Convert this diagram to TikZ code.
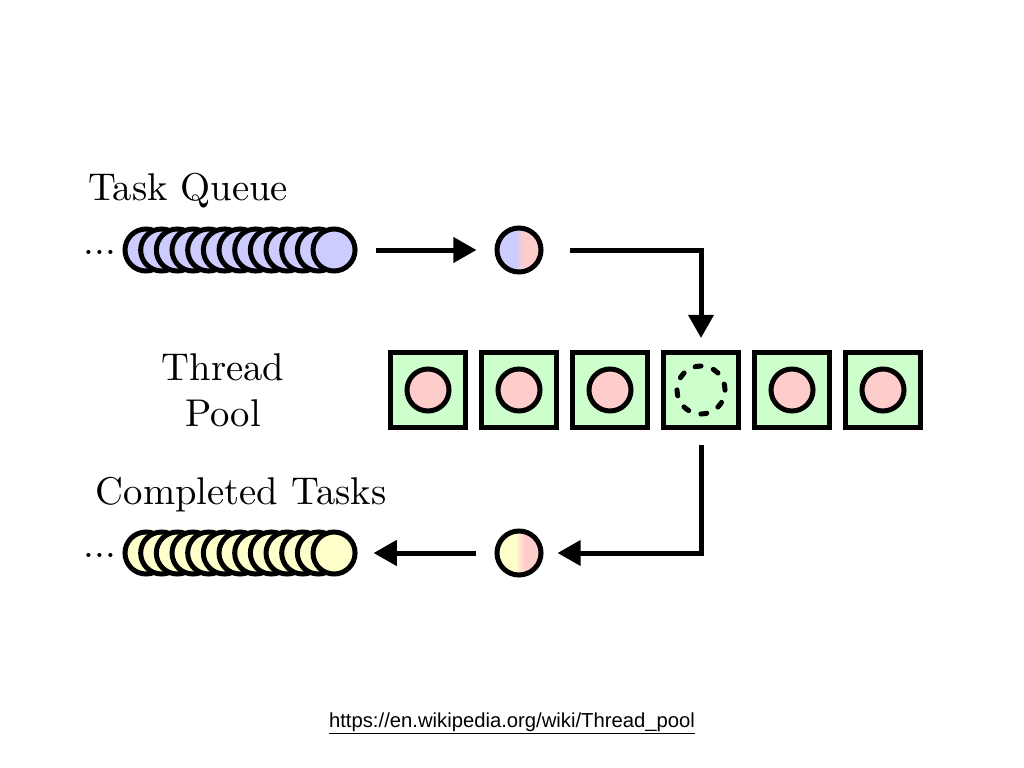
\documentclass[tikz,border=0pt]{standalone}
\usepackage{fontspec}
\newfontfamily\linkfont{Liberation Sans}
\usetikzlibrary{arrows.meta}
\definecolor{taskblue}{RGB}{204,204,255}
\definecolor{taskpink}{RGB}{255,204,204}
\definecolor{poolgreen}{RGB}{204,255,204}
\definecolor{doneyellow}{RGB}{255,255,204}
\pgfdeclarehorizontalshading{inblend}{100bp}{color(0bp)=(taskblue); color(46bp)=(taskblue); color(56bp)=(taskpink); color(100bp)=(taskpink)}
\pgfdeclarehorizontalshading{outblend}{100bp}{color(0bp)=(doneyellow); color(46bp)=(doneyellow); color(56bp)=(taskpink); color(100bp)=(taskpink)}
\tikzset{>={Triangle[length=0.58cm,width=0.62cm]}}

\begin{document}
\begin{tikzpicture}[x=0.025cm, y=-0.025cm,
        task/.style={circle, draw=black, line width=0.125cm, minimum size=1.05cm, inner sep=0pt},
        worker/.style={rectangle, draw=black, fill=poolgreen, line width=0.125cm, minimum size=1.875cm, inner sep=0pt},
        flow/.style={->, line width=0.125cm},
        heading/.style={font=\normalsize, scale=2.75, inner sep=0pt}]
    \useasboundingbox (0,0) rectangle (1024,768);

    % incoming tasks
    \node[heading, anchor=base] (queuetitle) at (188,200) {Task Queue};
    \node[heading, anchor=base] (dotsin) at (100,254) {...};
    \foreach \i in {1,...,13}
        \node[task, fill=taskblue] (q\i) at ({146+(\i-1)*15.67},250) {};
    \node[task, minimum size=1.1cm, shading=inblend] (in) at (519,250) {};

    % the pool
    \node[heading, align=center] (pooltitle) at (223,390) {Thread\\Pool};
    \foreach \i in {1,...,6}
        \node[worker] (w\i) at ({428+(\i-1)*91},390) {};
    \foreach \i in {1,2,3,5,6}
        \node[task, fill=taskpink] (t\i) at (w\i) {};
    \node[task, minimum size=1.2cm, dash pattern=on 0.15cm off 0.32cm, line cap=round] (t4) at (w4) {};

    % finished tasks
    \node[heading, anchor=base] (donetitle) at (241,504) {Completed Tasks};
    \node[heading, anchor=base] (dotsout) at (100,557) {...};
    \foreach \i in {1,...,13}
        \node[task, fill=doneyellow] (c\i) at ({146+(\i-1)*15.67},553) {};
    \node[task, minimum size=1.1cm, shading=outblend] (out) at (519,553) {};

    \draw[flow, shorten <=0.45cm, shorten >=0.45cm] (q13) -- (in);
    \draw[flow, shorten <=0.65cm, shorten >=0.3cm] (in) -| (w4);
    \draw[flow, shorten <=0.375cm, shorten >=0.35cm] (w4) |- (out);
    \draw[flow, shorten <=0.45cm, shorten >=0.4cm] (out) -- (c13);

    \node[font=\linkfont\fontsize{14.4}{17}\selectfont, anchor=base] (source) at (512,727)
        {\underline{https://en.wikipedia.org/wiki/Thread\_pool}};
\end{tikzpicture}
\end{document}
